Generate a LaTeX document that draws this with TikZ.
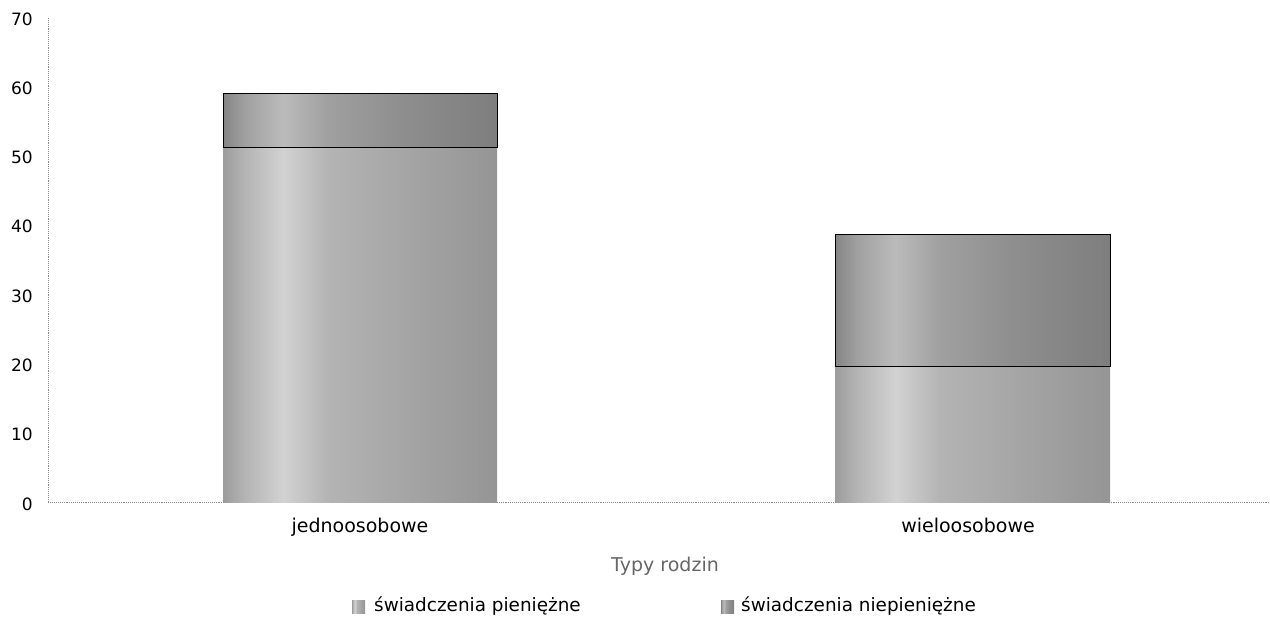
\documentclass[tikz,border=0pt]{standalone}
\usepackage{fontspec}
\setmainfont{DejaVu Sans}
\usetikzlibrary{calc}
\definecolor{lowA}{HTML}{9C9C9C}
\definecolor{lowB}{HTML}{B4B4B4}
\definecolor{lowC}{HTML}{D2D2D2}
\definecolor{lowD}{HTML}{A6A6A6}
\definecolor{lowE}{HTML}{959595}
\definecolor{hiA}{HTML}{858585}
\definecolor{hiB}{HTML}{A0A0A0}
\definecolor{hiC}{HTML}{BBBBBB}
\definecolor{hiD}{HTML}{8E8E8E}
\definecolor{hiE}{HTML}{7E7E7E}
\definecolor{axisgray}{HTML}{8A8A8A}
\pgfdeclarehorizontalshading{lowbar}{100bp}{color(0bp)=(lowA); color(25bp)=(lowA); color(29bp)=(lowB); color(36bp)=(lowC); color(44bp)=(lowB); color(57.5bp)=(lowD); color(75bp)=(lowE); color(100bp)=(lowE)}
\pgfdeclarehorizontalshading{highbar}{100bp}{color(0bp)=(hiA); color(25bp)=(hiA); color(29bp)=(hiB); color(36bp)=(hiC); color(44bp)=(hiB); color(57.5bp)=(hiD); color(75bp)=(hiE); color(100bp)=(hiE)}
\tikzset{
  ticklabel/.style={anchor=east, font=\fontsize{17}{17}\selectfont, text=black, inner sep=0pt},
  catlabel/.style={font=\fontsize{19}{19}\selectfont, text=black, inner sep=0pt},
  axtitle/.style={font=\fontsize{19}{19}\selectfont, text=black!60, inner sep=0pt},
  leglabel/.style={anchor=west, font=\fontsize{18.4}{18.4}\selectfont, text=black, inner sep=0pt},
  axisline/.style={draw=axisgray, line width=0.9pt, densely dotted},
  lowseg/.style={shading=lowbar},
  highseg/.style={shading=highbar, draw=black, line width=0.8pt},
}
\begin{document}
\begin{tikzpicture}[x=1pt,y=-1pt]
\useasboundingbox (0,0) rectangle (1270,624);
\def\yz{502}
\def\ys{6.93}
% axes
\coordinate (ytop) at (48,18);
\coordinate (orig) at (48,\yz);
\coordinate (xend) at (1270,\yz);
\draw[axisline] (ytop) -- (orig) -- (xend);
% tick labels
\foreach \v in {0,10,...,70}{
  \node[ticklabel] (t\v) at (33,{\yz-\ys*\v+2}) {\v};
}
% bar 1: jednoosobowe
\path[lowseg] (223,{\yz}) rectangle (497,{\yz-\ys*51.1});
\path[highseg] (223,{\yz-\ys*51.1}) rectangle (497,{\yz-\ys*59.0});
% bar 2: wieloosobowe
\path[lowseg] (835,{\yz}) rectangle (1110,{\yz-\ys*19.5});
\path[highseg] (835,{\yz-\ys*19.5}) rectangle (1110,{\yz-\ys*38.6});
% category labels
\node[catlabel] (c1) at (360,527) {jednoosobowe};
\node[catlabel] (c2) at (968,525) {wieloosobowe};
% axis title
\node[axtitle] (xt) at (665,566) {Typy rodzin};
% legend
\path[lowseg] (352,600) rectangle (365,613);
\node[leglabel] (l1) at (374,606) {świadczenia pieniężne};
\path[shading=highbar] (721,600) rectangle (734,613);
\node[leglabel] (l2) at (741,606) {świadczenia niepieniężne};
\end{tikzpicture}
\end{document}
